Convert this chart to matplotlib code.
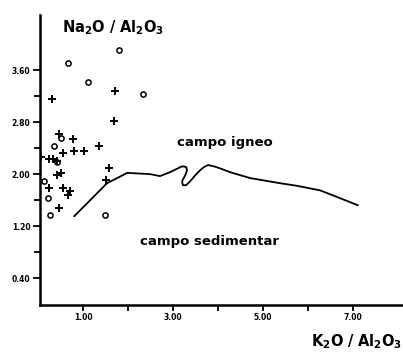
import matplotlib
matplotlib.use("Agg")
import matplotlib.pyplot as plt

# Sample ratios: circles and crosses
circle_x = [1.80, 0.67, 1.11, 2.33, 0.51, 0.36, 0.42, 0.13, 0.22, 0.27, 1.49]
circle_y = [3.91, 3.71, 3.42, 3.23, 2.55, 2.43, 2.18, 1.89, 1.63, 1.37, 1.37]

cross_x = [0.31, 1.71, 1.69, 0.47, 0.78, 0.56, 0.80, 1.02, 1.36,
           0.07, 0.24, 0.33, 0.42, 0.51, 0.42, 1.58, 1.51,
           0.24, 0.56, 0.71, 0.67, 0.47]
cross_y = [3.15, 3.28, 2.82, 2.62, 2.54, 2.32, 2.35, 2.35, 2.43,
           2.26, 2.23, 2.23, 2.20, 2.02, 1.98, 2.09, 1.91,
           1.78, 1.78, 1.74, 1.68, 1.48]

# Boundary between the igneous and sedimentary fields
bound_x = [0.80, 1.16, 1.53, 1.76, 1.98, 2.49, 2.71, 2.93, 3.11, 3.16, 3.22,
           3.29, 3.31, 3.27, 3.22, 3.20, 3.22, 3.29, 3.38, 3.49, 3.60, 3.69,
           3.78, 3.91, 4.04, 4.27, 4.71, 5.38, 5.76, 6.27, 6.64, 7.11]
bound_y = [1.35, 1.60, 1.86, 1.94, 2.02, 2.00, 1.97, 2.03, 2.09, 2.11, 2.12,
           2.11, 2.06, 1.98, 1.92, 1.88, 1.83, 1.83, 1.89, 1.98, 2.06, 2.11,
           2.14, 2.12, 2.09, 2.03, 1.94, 1.86, 1.82, 1.75, 1.65, 1.52]

y_major = [0.40, 1.20, 2.00, 2.80, 3.60]
y_major_labels = ["0.40", "1.20", "2.00", "2.80", "3.60"]
y_minor = [0.80, 1.60, 2.40, 3.20]
x_major = [1, 3, 5, 7]
x_major_labels = ["1.00", "3.00", "5.00", "7.00"]
x_minor = [2, 4, 6]

fig = plt.figure(figsize=(4.03, 3.58), dpi=100)
ax = fig.add_axes([0.0993, 0.148, 0.9007, 0.810])
ax.set_xlim(0.044, 8.11)
ax.set_ylim(-0.015, 4.45)

ax.plot(bound_x, bound_y, color="black", lw=1.3, solid_capstyle="round",
        solid_joinstyle="round")
ax.scatter(circle_x, circle_y, s=14, marker="o", facecolors="white",
           edgecolors="black", linewidths=1.1, zorder=3)
ax.scatter(cross_x, cross_y, s=40, marker="+", color="black",
           linewidths=1.4, zorder=3)

for side in ("top", "right"):
    ax.spines[side].set_visible(False)
for side in ("left", "bottom"):
    ax.spines[side].set_linewidth(1.8)

ax.set_yticks(y_major)
ax.set_yticklabels(y_major_labels)
ax.set_yticks(y_minor, minor=True)
ax.set_xticks(x_major)
ax.set_xticklabels(x_major_labels)
ax.set_xticks(x_minor, minor=True)
ax.tick_params(which="both", direction="out", width=1.3, color="black",
               labelsize=5.5, pad=2)
ax.tick_params(axis="y", which="major", length=5)
ax.tick_params(axis="y", which="minor", length=4)
ax.tick_params(axis="x", which="both", length=4)
for lab in ax.get_xticklabels() + ax.get_yticklabels():
    lab.set_fontweight("bold")

ax.text(0.060, 0.99, r"$\mathbf{Na_2O\ /\ Al_2O_3}$", transform=ax.transAxes,
        fontsize=10.5, ha="left", va="top")
fig.text(0.998, 0.02, r"$\mathbf{K_2O\ /\ Al_2O_3}$", fontsize=10.5,
         ha="right", va="bottom")

ax.text(4.16, 2.49, "campo igneo", fontsize=9.5, fontweight="bold",
        ha="center", va="center")
ax.text(3.80, 0.97, "campo sedimentar", fontsize=9.5, fontweight="bold",
        ha="center", va="center")

fig.savefig("out.png", dpi=100)
